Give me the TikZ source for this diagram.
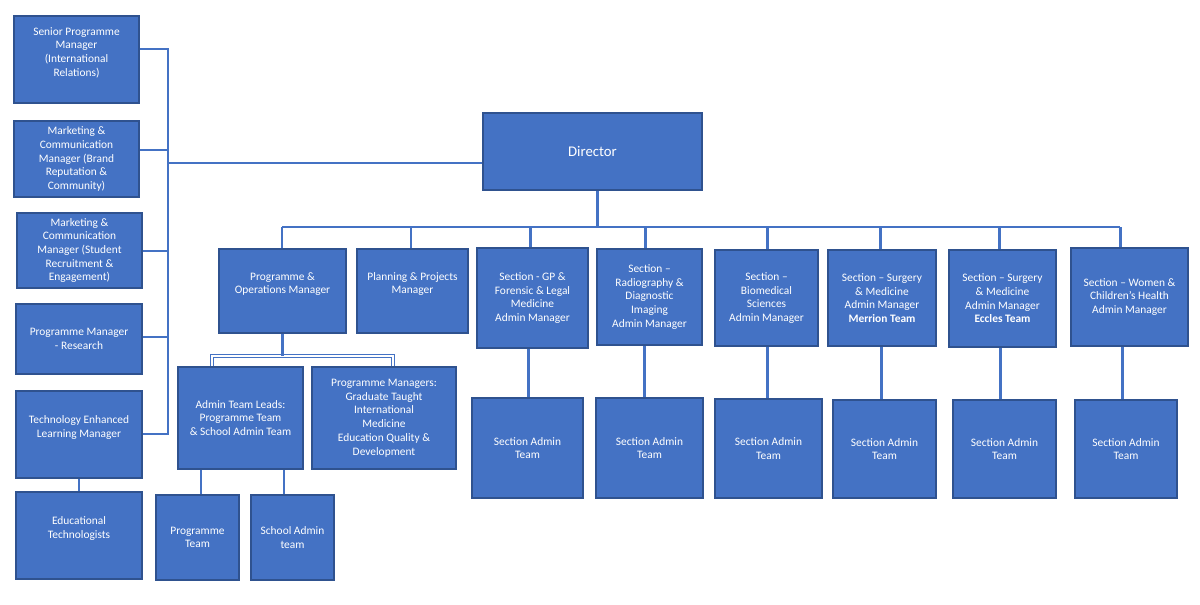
\documentclass[tikz,border=0pt]{standalone}
\usepackage{fontspec}
\setmainfont{Carlito}
\usetikzlibrary{positioning}
\definecolor{boxfill}{HTML}{4472C4}
\definecolor{boxedge}{HTML}{2F528F}
\tikzstyle{box} = [draw=boxedge,fill=boxfill,line width=1.3pt,text=white,align=center,inner sep=2pt,font=\fontsize{6.5}{7.8}\selectfont]
\tikzstyle{lbl} = [text=white,align=center,inner sep=0pt,font=\fontsize{6.5}{7.8}\selectfont]
\tikzstyle{link} = [boxfill,line width=1.7pt]
\tikzset{wh/.style 2 args={minimum width=#1*0.02cm,minimum height=#2*0.02cm}}

\begin{document}
\begin{tikzpicture}[x=0.02cm,y=-0.02cm]
\useasboundingbox (0,0) rectangle (1200,605);

% left column
\node[box,wh={125}{87},label={[lbl,yshift=0.14cm]center:{Senior Programme\\Manager\\(International\\Relations)}}] (srpm) at (76.5,59.5) {};
\node[box,wh={125}{76}] (mcb) at (76.5,159) {Marketing \&\\Communication\\Manager (Brand\\Reputation \&\\Community)};
\node[box,wh={125}{75}] (mcs) at (79.5,250.5) {Marketing \&\\Communication\\Manager (Student\\Recruitment \&\\Engagement)};
\node[box,wh={126}{70}] (pmr) at (79,339) {Programme Manager\\- Research};
\node[box,wh={126}{87},label={[lbl,yshift=0.14cm]center:{Technology Enhanced\\Learning Manager}}] (tel) at (79,434.5) {};
\node[box,wh={126}{87},label={[lbl,yshift=0.14cm]center:{Educational\\Technologists}}] (edt) at (79,535.5) {};

% director
\node[box,wh={219}{77},font=\fontsize{8.4}{10}\selectfont] (dir) at (592.5,151.5) {Director};

% second row
\node[box,wh={127}{84},label={[lbl,yshift=0.14cm]center:{Programme \&\\Operations Manager}}] (po) at (282.5,291) {};
\node[box,wh={111}{84},label={[lbl,yshift=0.14cm]center:{Planning \& Projects\\Manager}}] (ppm) at (412.5,291) {};
\node[box,wh={111}{100}] (gp) at (532.5,298) {Section - GP \&\\Forensic \& Legal\\Medicine\\Admin Manager};
\node[box,wh={105}{96}] (rad) at (649.5,297) {Section --\\Radiography \&\\Diagnostic\\Imaging\\Admin Manager};
\node[box,wh={103}{96}] (bio) at (766.5,298) {Section --\\Biomedical\\Sciences\\Admin Manager};
\node[box,wh={108}{96}] (mer) at (882,298) {Section -- Surgery\\\& Medicine\\Admin Manager\\\textbf{Merrion Team}};
\node[box,wh={107}{97}] (ecc) at (1002.5,298.5) {Section -- Surgery\\\& Medicine\\Admin Manager\\\textbf{Eccles Team}};
\node[box,wh={117}{98}] (wch) at (1129.5,297) {Section -- Women \&\\Children’s Health\\Admin Manager};

% under programme & operations
\node[box,wh={125}{102}] (atl) at (240.5,418) {Admin Team Leads:\\Programme Team\\\& School Admin Team};
\node[box,wh={144}{102}] (pmg) at (384,418) {Programme Managers:\\Graduate Taught\\International\\Medicine\\Education Quality \&\\Development};
\node[box,wh={83}{85}] (pt) at (197.5,537.5) {Programme\\Team};
\node[box,wh={83}{85}] (sch) at (292.5,537.5) {School Admin\\team};

% section admin teams
\node[box,wh={111}{100}] (sat1) at (527.5,448) {Section Admin\\Team};
\node[box,wh={107}{100}] (sat2) at (649.5,448) {Section Admin\\Team};
\node[box,wh={107}{99}] (sat3) at (768.5,448.5) {Section Admin\\Team};
\node[box,wh={103}{98}] (sat4) at (884.5,449) {Section Admin\\Team};
\node[box,wh={103}{98}] (sat5) at (1004.5,449) {Section Admin\\Team};
\node[box,wh={102}{98}] (sat6) at (1126,449) {Section Admin\\Team};

% left bus
\coordinate (lbus) at (168,49);
\coordinate (lbusend) at (168,434);
\coordinate (dirjoin) at (168,163);
\draw[link] (srpm.east |- lbus) -- (lbus) -- (lbusend) -- (tel.east |- lbusend);
\draw[link] (mcb.east |- 0,150) -- (lbus |- 0,150);
\draw[link] (mcs.east |- 0,251) -- (lbus |- 0,251);
\draw[link] (pmr.east |- 0,337) -- (lbus |- 0,337);
\draw[link] (dirjoin) -- (dir.west |- dirjoin);
\draw[link] (tel.south) -- (edt.north);

% top bus
\coordinate (tbus) at (597,227);
\draw[link] (dir.south -| tbus) -- (tbus);
\draw[link] (tbus -| 282,0) -- (tbus -| 1120,0);
\draw[link] (po.north -| 282,0) -- (tbus -| 282,0);
\draw[link] (ppm.north -| 411,0) -- (tbus -| 411,0);
\draw[link] (gp.north -| 530,0) -- (tbus -| 530,0);
\draw[link] (rad.north -| 645,0) -- (tbus -| 645,0);
\draw[link] (bio.north -| 767,0) -- (tbus -| 767,0);
\draw[link] (mer.north -| 880,0) -- (tbus -| 880,0);
\draw[link] (ecc.north -| 999,0) -- (tbus -| 999,0);
\draw[link] (wch.north -| 1120,0) -- (tbus -| 1120,0);

% section admin links
\draw[link] (gp.south -| 528,0) -- (sat1.north -| 528,0);
\draw[link] (rad.south -| 644,0) -- (sat2.north -| 644,0);
\draw[link] (bio.south -| 767,0) -- (sat3.north -| 767,0);
\draw[link] (mer.south -| 881,0) -- (sat4.north -| 881,0);
\draw[link] (ecc.south -| 1000,0) -- (sat5.north -| 1000,0);
\draw[link] (wch.south -| 1122,0) -- (sat6.north -| 1122,0);

% programme & operations subtree
\coordinate (subL) at (212,356);
\coordinate (subR) at (393,356);
\draw[boxfill,line width=0.8pt,double=white,double distance=0.7pt] (atl.north -| subL) -- (subL) -- (subR) -- (pmg.north -| subR);
\draw[link] (po.south) -- (po.south |- subL);
\draw[link] (atl.south -| 201,0) -- (pt.north -| 201,0);
\draw[link] (atl.south -| 284,0) -- (sch.north -| 284,0);
\end{tikzpicture}
\end{document}
